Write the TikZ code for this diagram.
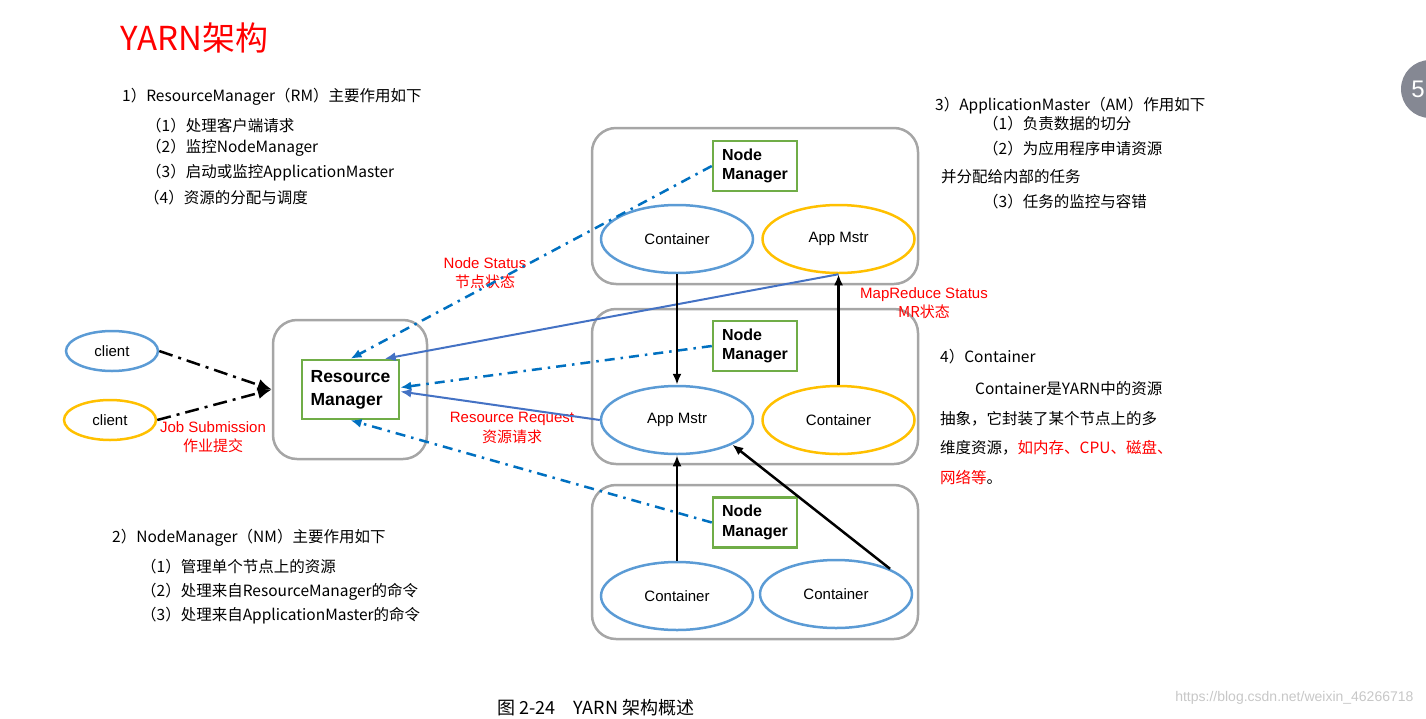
\documentclass[tikz,border=0pt]{standalone}
\usepackage{fontspec}
\setmainfont{Liberation Sans}
\newfontfamily\cjk{Noto Sans CJK SC}
\usetikzlibrary{arrows.meta,positioning,shapes.geometric}

\definecolor{boxgray}{HTML}{A6A6A6}
\definecolor{nmgreen}{HTML}{70AD47}
\definecolor{ellblue}{HTML}{5B9BD5}
\definecolor{ellorange}{HTML}{FFC000}
\definecolor{statblue}{HTML}{0070C0}
\definecolor{reqblue}{HTML}{4472C4}
\definecolor{notered}{HTML}{FF0000}
\definecolor{pagegray}{HTML}{858893}

\begin{document}
\begin{tikzpicture}[x=1pt, y=-1pt, >={Latex[length=11pt,width=9pt]},
    outerbox/.style={draw=boxgray, line width=2.5pt, rounded corners=24pt},
    greenbox/.style={draw=nmgreen, line width=2.5pt, align=left, inner sep=0pt,
        font=\fontsize{16}{19.5}\selectfont\bfseries},
    blueell/.style={ellipse, draw=ellblue, line width=2.5pt, minimum width=152pt,
        minimum height=68pt, font=\fontsize{15}{18}\selectfont},
    orangeell/.style={blueell, draw=ellorange},
    clientell/.style={ellipse, line width=2.5pt, minimum width=92pt,
        minimum height=40pt, font=\fontsize{15}{18}\selectfont},
    status/.style={draw=statblue, line width=2.5pt, dash pattern=on 10pt off 6pt on 2.5pt off 6pt},
    request/.style={draw=reqblue, line width=2pt},
    job/.style={draw=black, line width=2.5pt, dash pattern=on 14pt off 6pt on 3pt off 6pt,
        >={Latex[length=14pt,width=12pt]}},
    flow/.style={draw=black, line width=2.5pt},
    redlabel/.style={text=notered, align=center, font=\fontsize{15}{19.5}\selectfont},
    txt/.style={anchor=west, inner sep=0pt, font=\cjk\fontsize{15.5}{19}\selectfont}]
    \useasboundingbox (0,0) rectangle (1426,718);

    % Texts
    \node [txt, text=notered, font=\cjk\fontsize{33}{38}\selectfont] (title) at (120,38) {YARN架构};
    \node [txt] (rmhead) at (122,97)  {1）ResourceManager（RM）主要作用如下};
    \node [txt] (rmi)    at (146,126) {（1）处理客户端请求};
    \node [txt] (rmii)   at (146,148) {（2）监控NodeManager};
    \node [txt] (rmiii)  at (146,173) {（3）启动或监控ApplicationMaster};
    \node [txt] (rmiv)   at (144,198) {（4）资源的分配与调度};

    \node [txt] (nmhead) at (112,538) {2）NodeManager（NM）主要作用如下};
    \node [txt] (nmi)    at (141,567) {（1）管理单个节点上的资源};
    \node [txt] (nmii)   at (141,592) {（2）处理来自ResourceManager的命令};
    \node [txt] (nmiii)  at (141,616) {（3）处理来自ApplicationMaster的命令};

    \node [txt] (amhead) at (935,106) {3）ApplicationMaster（AM）作用如下};
    \node [txt] (ami)    at (983,124) {（1）负责数据的切分};
    \node [txt] (amii)   at (983,149) {（2）为应用程序申请资源};
    \node [txt] (amiib)  at (941,177) {并分配给内部的任务};
    \node [txt] (amiii)  at (983,202) {（3）任务的监控与容错};

    \node [txt] (cthead) at (940,357) {4）Container};
    \node [txt] (cti)    at (975,389) {Container是YARN中的资源};
    \node [txt] (ctii)   at (940,419) {抽象，它封装了某个节点上的多};
    \node [txt] (ctiii)  at (940,448) {维度资源，\textcolor{notered}{如内存、CPU、磁盘、}};
    \node [txt] (ctiv)   at (940,477) {\textcolor{notered}{网络等}。};

    % Nodes {client, rm, nm1, nm2, nm3, containers, app masters}
    \node [clientell, draw=ellblue]   (client1) at (112,351) {client};
    \node [clientell, draw=ellorange] (client2) at (110,420) {client};

    \node [outerbox, minimum width=154pt, minimum height=139pt] (rmbox) at (350,389.5) {};
    \node [greenbox, minimum width=97pt, minimum height=59pt,
           font=\fontsize{17.5}{23}\selectfont\bfseries] (rm) at (350.5,389.5) {Resource\\Manager};

    \node [outerbox, minimum width=326pt, minimum height=156pt] (box1) at (755,206) {};
    \node [outerbox, minimum width=326pt, minimum height=155pt] (box2) at (755,386.5) {};
    \node [outerbox, minimum width=326pt, minimum height=154pt] (box3) at (755,562) {};

    \node [greenbox, minimum width=84pt, minimum height=50pt] (nm1) at (755,166)   {Node\\Manager};
    \node [greenbox, minimum width=84pt, minimum height=50pt] (nm2) at (755,346)   {Node\\Manager};
    \node [greenbox, minimum width=84pt, minimum height=50pt] (nm3) at (755,522.5) {Node\\Manager};

    \node [blueell]   (c1)  at (677,239)           {Container};
    \node [orangeell] (am1) [right=7pt of c1]      {App Mstr};
    \node [blueell]   (am2) at (677,420)           {App Mstr};
    \node [orangeell] (c2)  [right=7pt of am2]     {Container};
    \node [blueell]   (c3)  at (677,596)           {Container};
    \node [blueell]   (c4)  at (836,594)           {Container};

    % Labels
    \node [redlabel] (jobsub)  at (213,437)   {Job Submission\\{\cjk 作业提交}};
    \node [redlabel] (nstatus) at (485,273)   {Node Status\\{\cjk 节点状态}};
    \node [redlabel] (mrstat)  at (924,303)   {MapReduce Status\\{\cjk MR状态}};
    \node [redlabel] (resreq)  at (512,428)   {Resource Request\\{\cjk 资源请求}};

    % Paths
    \path [->] (client1.east) edge [job]     (rmbox.west);
    \path [->] (client2.east) edge [job]     (rmbox.west);

    \path [->] (nm1.west)     edge [status]  (rm.north);
    \path [->] (nm2.west)     edge [status]  ([yshift=2pt]rm.east);
    \path [->] (nm3.west)     edge [status]  (rm.south);

    \path [->] (am1.south)    edge [request] (rm.42);
    \path [->] (am2.west)     edge [request] ([yshift=-2pt]rm.east);

    \path [->] (c1.south)     edge [flow]    (am2.north);
    \path [->] (c2.north)     edge [flow]    (am1.south);
    \path [->] (c3.north)     edge [flow]    (am2.south);
    \path [->] (c4.25)        edge [flow]    (am2.-24);

    % Page marks
    \fill [pagegray] (1430,89) circle (29);
    \node [text=white, font=\fontsize{24}{26}\selectfont] (pageno) at (1418,89) {5};
    \node [anchor=east, text=black!22, font=\fontsize{14}{16}\selectfont] (mark) at (1417,698)
        {https://blog.csdn.net/weixin\_46266718};
    \node [anchor=south west, inner sep=0pt, font=\cjk\fontsize{18}{20}\selectfont] (caption) at (497,716)
        {图 2-24\quad YARN 架构概述};
\end{tikzpicture}
\end{document}
